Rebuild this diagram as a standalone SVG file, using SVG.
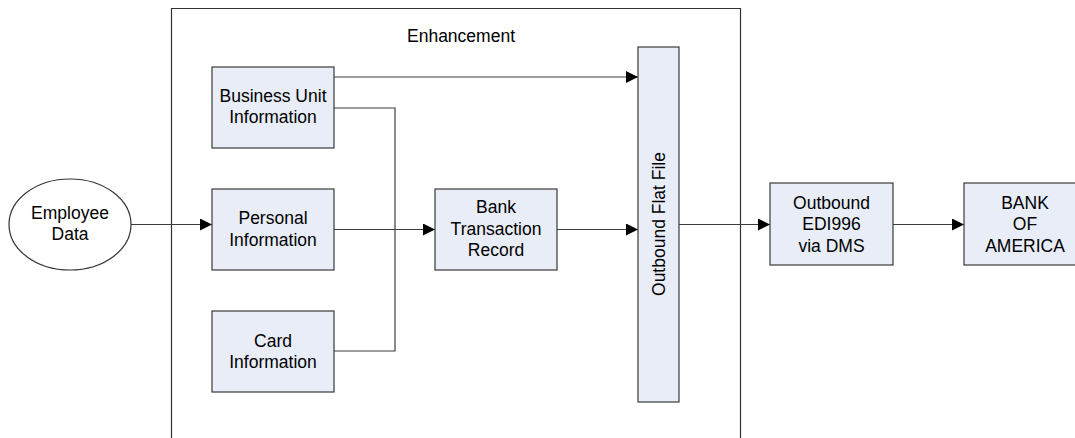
<svg xmlns="http://www.w3.org/2000/svg" width="1075" height="438" viewBox="0 0 1075 438">
<style>
.box{fill:#e8edf7;stroke:#3a3a3a;stroke-width:1.2}
.lbl{font-family:"Liberation Sans",Arial,sans-serif;font-size:17.5px;fill:#000;text-anchor:middle}
.ln{fill:none;stroke:#3c3c3c;stroke-width:1.2}
.frame{fill:none;stroke:#333;stroke-width:1.2}
</style>
<defs>
<marker id="arr" markerUnits="userSpaceOnUse" markerWidth="12" markerHeight="12" refX="12" refY="6" orient="auto">
<path d="M0,0 L12,6 L0,12 z" fill="#000"/>
</marker>
</defs>
<rect width="1075" height="438" fill="#fff"/>
<g id="enhancement">
<path class="frame" d="M171.5,438 V8.5 H740.5 V438"/>
<text class="lbl" x="461" y="42">Enhancement</text>
</g>
<g id="connectors">
<path class="ln" d="M131,224.5 H212" marker-end="url(#arr)"/>
<path class="ln" d="M334,77 H638" marker-end="url(#arr)"/>
<path class="ln" d="M334,108 H395 V351 H334"/>
<path class="ln" d="M334,229.5 H435" marker-end="url(#arr)"/>
<path class="ln" d="M557,229.5 H638" marker-end="url(#arr)"/>
<path class="ln" d="M679,224.5 H770" marker-end="url(#arr)"/>
<path class="ln" d="M893,224.5 H964" marker-end="url(#arr)"/>
</g>
<g id="employee">
<ellipse cx="70" cy="224.5" rx="61" ry="45.5" fill="#fff" stroke="#333" stroke-width="1.2"/>
<text class="lbl" x="70" y="219">Employee</text>
<text class="lbl" x="70" y="240">Data</text>
</g>
<g id="business-unit">
<rect class="box" x="212" y="67" width="122" height="81"/>
<text class="lbl" x="273" y="102">Business Unit</text>
<text class="lbl" x="273" y="123">Information</text>
</g>
<g id="personal">
<rect class="box" x="212" y="189" width="122" height="81"/>
<text class="lbl" x="273" y="224">Personal</text>
<text class="lbl" x="273" y="245.5">Information</text>
</g>
<g id="card">
<rect class="box" x="212" y="311" width="122" height="81"/>
<text class="lbl" x="273" y="346.5">Card</text>
<text class="lbl" x="273" y="367.5">Information</text>
</g>
<g id="bank-transaction">
<rect class="box" x="435" y="189" width="122" height="81"/>
<text class="lbl" x="496" y="212.5">Bank</text>
<text class="lbl" x="496" y="234.5">Transaction</text>
<text class="lbl" x="496" y="256">Record</text>
</g>
<g id="flat-file">
<rect class="box" x="638" y="47" width="41" height="355"/>
<text class="lbl" transform="translate(665,224) rotate(-90)" x="0" y="0">Outbound Flat File</text>
</g>
<g id="edi">
<rect class="box" x="770" y="183" width="123" height="82"/>
<text class="lbl" x="831.5" y="208.5">Outbound</text>
<text class="lbl" x="831.5" y="230">EDI996</text>
<text class="lbl" x="831.5" y="251.5">via DMS</text>
</g>
<g id="bank-of-america">
<rect class="box" x="964" y="183" width="122" height="82"/>
<text class="lbl" x="1025" y="208.5">BANK</text>
<text class="lbl" x="1025" y="230">OF</text>
<text class="lbl" x="1025" y="251.5">AMERICA</text>
</g>
</svg>
